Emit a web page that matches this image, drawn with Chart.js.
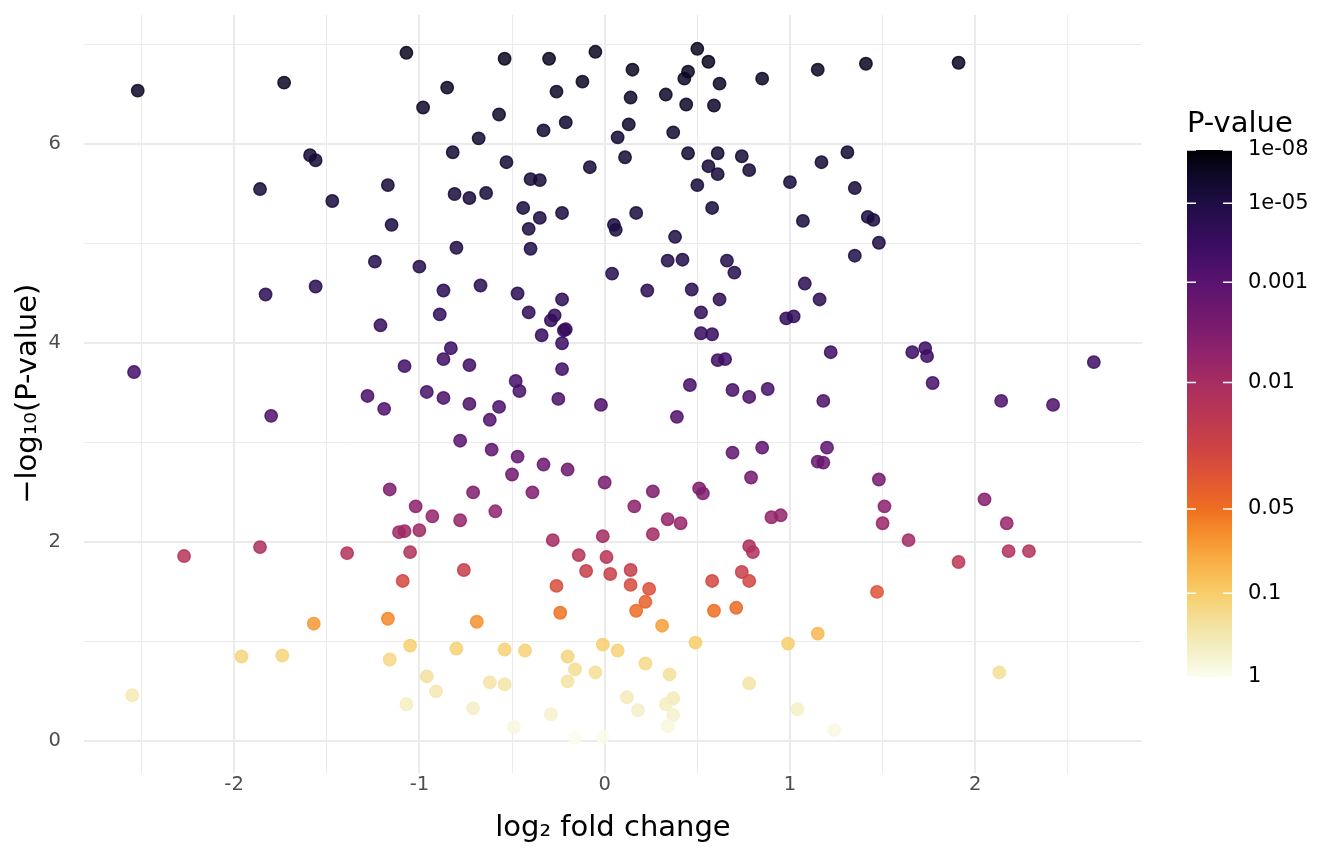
<!DOCTYPE html>
<html>
<head>
<meta charset="utf-8">
<title>Volcano plot</title>
<script src="https://cdn.jsdelivr.net/npm/chart.js@4.4.1/dist/chart.umd.min.js"></script>
<style>
  html, body { margin: 0; padding: 0; background: #ffffff; }
  #wrap { width: 1344px; height: 864px; }
</style>
</head>
<body>
<div id="wrap"><canvas id="volcano" width="1344" height="864"></canvas></div>
<script>
// log2 fold change of each gene
const logFC = [
  -2.52, -1.73, -1.07, -0.85, -0.98, -1.59, -1.56, -1.86, -1.47, -1.17, -1.15, -1.24, -1.00, -1.56,
  -0.54, -0.30, -0.05, 0.50, 0.56, 0.15, 0.45, 0.43, 0.62, 0.85, -0.12, -0.26, 0.14, 0.33, 0.44, 0.59,
  -0.57, -0.21, -0.33, -0.68, 0.13, 0.07, 0.37, -0.82, -0.53, -0.08, 0.11, 0.45, 0.61, 0.74, 0.56, 0.61,
  0.78, 1.00, 0.50, -0.40, -0.35, -0.81, -0.73, -0.64, -0.44, -0.35, -0.23, -0.41, 0.05, 0.06, 0.17, 0.58,
  0.38, -0.80, -0.40, 0.34, 0.42, 0.66, 0.70, 0.04, -0.67,
  1.15, 1.41, 1.91, 1.31, 1.17, 1.35, 1.07, 1.42, 1.45, 1.48, 1.35, 1.08,
  -1.83, -0.87, -0.89, -1.21, -0.83, -0.87, -2.54, -1.08, -1.28, -1.19, -0.96, -0.87, -1.80, -1.16, -1.02, -0.93,
  -0.47, -0.23, 0.23, 0.47, 0.62, 0.98, 1.02, -0.41, -0.27, -0.29, -0.22, -0.21, -0.23, -0.34, 0.52, 0.52,
  0.58, -0.73, -0.23, 0.61, 0.65, -0.48, -0.46, -0.25, -0.02, -0.73, -0.57, -0.62, 0.46, 0.69, 0.78, 0.88,
  0.39, -0.78, -0.61, -0.47, -0.50, -0.33, -0.20, 0.00, 0.69, 0.85, 0.79, -0.71, -0.39, 0.26, 0.51, 0.53,
  0.16, -0.59, -0.78, 0.34, 0.41, 0.90, 0.95,
  1.16, 1.22, 1.66, 1.73, 1.74, 2.64, 1.77, 1.18, 2.14, 2.42, 1.20, 1.15, 1.18, 1.48, 2.05, 1.51, 1.50, 2.17,
  -1.11, -1.08, -1.00, -2.27, -1.86, -1.39, -1.05, -1.09, -1.57, -1.17, -1.96, -1.74, -1.05, -1.16, -0.96,
  -0.91, -1.07, -2.55,
  -0.28, -0.01, 0.26, 0.78, 0.80, -0.14, 0.01, -0.76, -0.10, 0.03, 0.14, 0.74, 0.58, 0.78, -0.26, 0.14,
  0.24, 0.22, 0.17, -0.24, 0.59, 0.71, -0.69, 0.31, 0.49, 0.99, -0.01, -0.80, -0.54, -0.43, 0.07, -0.20,
  -0.16, 0.22, -0.05, 0.35, -0.20, -0.62, -0.54, 0.78, -0.71, 0.12, 0.18, 0.37, 0.33, 0.37, 0.34, -0.29,
  -0.49, -0.16, -0.01,
  1.64, 2.18, 2.29, 1.91, 1.47, 1.15, 2.13, 1.04, 1.24
];

// -log10(P-value) of each gene, same order
const negLogP = [
  6.54, 6.62, 6.92, 6.57, 6.37, 5.89, 5.84, 5.55, 5.43, 5.59, 5.19, 4.82, 4.77, 4.57,
  6.86, 6.86, 6.93, 6.96, 6.83, 6.75, 6.73, 6.66, 6.61, 6.66, 6.63, 6.53, 6.47, 6.50, 6.40, 6.39,
  6.30, 6.22, 6.14, 6.06, 6.20, 6.07, 6.12, 5.92, 5.82, 5.77, 5.87, 5.91, 5.91, 5.88, 5.78, 5.70,
  5.74, 5.62, 5.59, 5.65, 5.64, 5.50, 5.46, 5.51, 5.36, 5.26, 5.31, 5.15, 5.19, 5.14, 5.31, 5.36,
  5.07, 4.96, 4.95, 4.83, 4.84, 4.83, 4.71, 4.70, 4.58,
  6.75, 6.81, 6.82, 5.92, 5.82, 5.56, 5.23, 5.27, 5.24, 5.01, 4.88, 4.60,
  4.49, 4.53, 4.29, 4.18, 3.95, 3.84, 3.71, 3.77, 3.47, 3.34, 3.51, 3.45, 3.27, 2.53, 2.36, 2.26,
  4.50, 4.44, 4.53, 4.54, 4.44, 4.25, 4.27, 4.31, 4.28, 4.23, 4.13, 4.14, 4.00, 4.08, 4.31, 4.10,
  4.09, 3.78, 3.74, 3.83, 3.84, 3.62, 3.52, 3.44, 3.38, 3.39, 3.36, 3.23, 3.58, 3.53, 3.46, 3.54,
  3.26, 3.02, 2.93, 2.86, 2.68, 2.78, 2.73, 2.60, 2.90, 2.95, 2.65, 2.50, 2.50, 2.51, 2.54, 2.49,
  2.36, 2.31, 2.22, 2.23, 2.19, 2.25, 2.27,
  4.44, 3.91, 3.91, 3.95, 3.87, 3.81, 3.60, 3.42, 3.42, 3.38, 2.95, 2.81, 2.80, 2.63, 2.43, 2.36, 2.19, 2.19,
  2.10, 2.11, 2.12, 1.86, 1.95, 1.89, 1.90, 1.61, 1.18, 1.23, 0.85, 0.86, 0.96, 0.82, 0.65,
  0.50, 0.37, 0.46,
  2.02, 2.06, 2.08, 1.96, 1.90, 1.87, 1.85, 1.72, 1.71, 1.68, 1.72, 1.70, 1.61, 1.61, 1.56, 1.57,
  1.53, 1.40, 1.31, 1.29, 1.31, 1.34, 1.20, 1.16, 0.99, 0.98, 0.97, 0.93, 0.92, 0.91, 0.91, 0.85,
  0.72, 0.78, 0.69, 0.67, 0.60, 0.59, 0.57, 0.58, 0.33, 0.44, 0.31, 0.43, 0.37, 0.26, 0.15, 0.27,
  0.14, 0.03, 0.04,
  2.02, 1.91, 1.91, 1.80, 1.50, 1.08, 0.69, 0.32, 0.11
];

// grid lines (majors get labels)
const xGrid = [-2.5, -2, -1.5, -1, -0.5, 0, 0.5, 1, 1.5, 2, 2.5];
const yGrid = [0, 1, 2, 3, 4, 5, 6, 7];
const yLabelled = [0, 2, 4, 6];

// colour bar breaks
const pBreaks = [1e-8, 1e-5, 0.001, 0.01, 0.05, 0.1, 1];
const pBreakLabels = ['1e-08', '1e-05', '0.001', '0.01', '0.05', '0.1', '1'];

// where each break sits along the colour bar (0 = bottom, 1 = top)
const barPos = [1.0, 0.899, 0.749, 0.559, 0.319, 0.159, 0.0];
const rampStops = [
  [0.00, '#fcfdf0'], [0.05, '#f4f0c6'], [0.10, '#f3e2a0'], [0.159, '#f8cd6a'],
  [0.22, '#f9ae45'], [0.27, '#f68f2c'], [0.319, '#ee6e21'], [0.38, '#e05535'],
  [0.44, '#cb4246'], [0.50, '#ba3654'], [0.559, '#a72d62'], [0.62, '#8e226c'],
  [0.68, '#741a6e'], [0.749, '#5a1370'], [0.82, '#3a0d62'], [0.899, '#1e0d45'],
  [0.95, '#0e0828'], [1.00, '#000004']
];

const FONT = 'DejaVu Sans';

function hexToRgb(h) {
  return [parseInt(h.slice(1, 3), 16), parseInt(h.slice(3, 5), 16), parseInt(h.slice(5, 7), 16)];
}

// -log10(p) -> position on the bar
function barPosition(nlp) {
  const anchors = pBreaks.map(p => -Math.log10(p)).reverse();
  const pos = barPos.slice().reverse();
  if (nlp <= anchors[0]) return pos[0];
  for (let i = 1; i < anchors.length; i++) {
    if (nlp <= anchors[i]) {
      const f = (nlp - anchors[i - 1]) / (anchors[i] - anchors[i - 1]);
      return pos[i - 1] + f * (pos[i] - pos[i - 1]);
    }
  }
  return pos[pos.length - 1];
}

function rampColour(t, alpha) {
  let i = 1;
  while (i < rampStops.length - 1 && t > rampStops[i][0]) i++;
  const [t0, c0] = rampStops[i - 1];
  const [t1, c1] = rampStops[i];
  const f = Math.min(1, Math.max(0, (t - t0) / (t1 - t0)));
  const a = hexToRgb(c0), b = hexToRgb(c1);
  const rgb = a.map((v, k) => Math.round(v + f * (b[k] - v)));
  return `rgba(${rgb[0]}, ${rgb[1]}, ${rgb[2]}, ${alpha})`;
}

const pointColours = negLogP.map(v => rampColour(barPosition(v), 0.85));

const colourBar = {
  id: 'colourBar',
  afterDraw(chart) {
    const ctx = chart.ctx;
    const left = 1187, width = 45, top = 150, bottom = 677;
    const grad = ctx.createLinearGradient(0, bottom, 0, top);
    rampStops.forEach(([t, c]) => grad.addColorStop(t, c));
    ctx.save();
    ctx.fillStyle = grad;
    ctx.fillRect(left, top, width, bottom - top);

    ctx.strokeStyle = '#ffffff';
    ctx.lineWidth = 1.5;
    ctx.font = `21px "${FONT}"`;
    ctx.textBaseline = 'middle';
    ctx.textAlign = 'left';
    pBreaks.forEach((p, i) => {
      const y = bottom - barPosition(-Math.log10(p)) * (bottom - top);
      ctx.beginPath();
      ctx.moveTo(left, y); ctx.lineTo(left + 9, y);
      ctx.moveTo(left + width - 9, y); ctx.lineTo(left + width, y);
      ctx.stroke();
      ctx.fillStyle = '#000000';
      ctx.fillText(pBreakLabels[i], left + width + 16, y);
    });

    ctx.font = `29px "${FONT}"`;
    ctx.textBaseline = 'alphabetic';
    ctx.fillText('P-value', 1187, 132);
    ctx.restore();
  }
};

const ctx = document.getElementById('volcano').getContext('2d');
new Chart(ctx, {
  type: 'scatter',
  data: {
    datasets: [{
      data: logFC.map((x, i) => ({ x: x, y: negLogP[i] })),
      backgroundColor: pointColours,
      borderColor: pointColours,
      borderWidth: 1.5,
      pointRadius: 6.2,
      pointHoverRadius: 6.2
    }]
  },
  options: {
    responsive: false,
    animation: false,
    events: [],
    layout: { padding: { top: 15, right: 202, bottom: 0, left: 0 } },
    plugins: {
      legend: { display: false },
      tooltip: { enabled: false }
    },
    scales: {
      x: {
        type: 'linear',
        min: -2.81,
        max: 2.90,
        afterBuildTicks: (scale) => { scale.ticks = xGrid.map(v => ({ value: v })); },
        afterFit: (scale) => {
          scale.height = 91.5;
          scale.paddingLeft = 0;
          scale.paddingRight = 0;
        },
        border: { display: false },
        grid: {
          color: '#ebebeb',
          lineWidth: (c) => Number.isInteger(c.tick.value) ? 2 : 1,
          drawTicks: false
        },
        ticks: {
          padding: 1,
          autoSkip: false,
          maxRotation: 0,
          color: '#4d4d4d',
          font: { family: FONT, size: 19.5 },
          callback: (v) => Number.isInteger(v) ? String(v) : ''
        },
        title: {
          display: true,
          text: 'log₂ fold change',
          color: '#000000',
          font: { family: FONT, size: 29 },
          padding: { top: 0, bottom: 18.6 }
        }
      },
      y: {
        type: 'linear',
        min: -0.316,
        max: 7.30,
        afterBuildTicks: (scale) => { scale.ticks = yGrid.map(v => ({ value: v })); },
        afterFit: (scale) => {
          scale.width = 84;
          scale.paddingTop = 0;
          scale.paddingBottom = 0;
        },
        border: { display: false },
        grid: {
          color: '#ebebeb',
          lineWidth: (c) => yLabelled.includes(c.tick.value) ? 2 : 1,
          drawTicks: false
        },
        ticks: {
          padding: 23,
          autoSkip: false,
          color: '#4d4d4d',
          font: { family: FONT, size: 19.5 },
          callback: (v) => yLabelled.includes(v) ? String(v) : ''
        },
        title: {
          display: true,
          text: '−log₁₀(P-value)',
          color: '#000000',
          font: { family: FONT, size: 29 },
          padding: { top: 11, bottom: 0 }
        }
      }
    }
  },
  plugins: [colourBar]
});
</script>
</body>
</html>
